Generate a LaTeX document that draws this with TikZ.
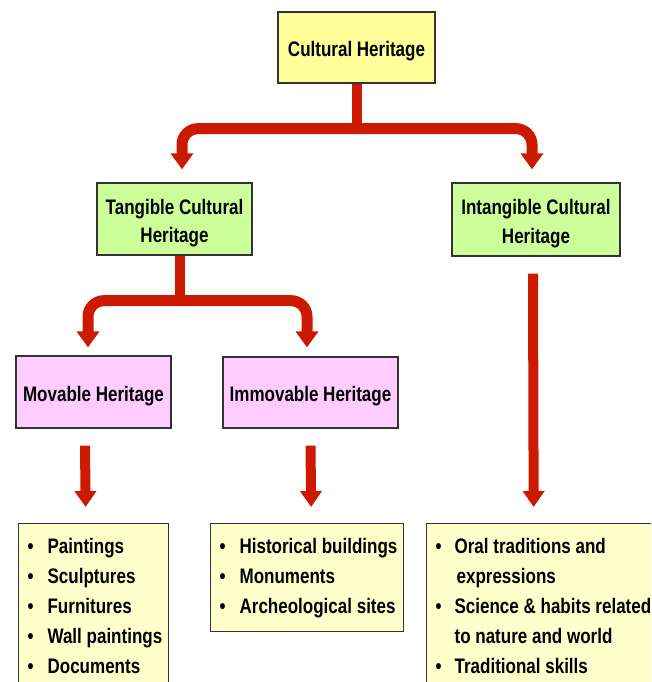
\documentclass[tikz,border=0pt]{standalone}
\usepackage{fontspec}
\setmainfont{Liberation Sans}[FakeStretch=0.81]
\usetikzlibrary{arrows.meta}
\definecolor{chY}{HTML}{FFFF99}
\definecolor{tgG}{HTML}{CCFF99}
\definecolor{mvP}{HTML}{FFCCFF}
\definecolor{lsY}{HTML}{FFFFCC}
\definecolor{arR}{HTML}{CC1A00}
\definecolor{bdr}{HTML}{333333}
\newcommand{\itemrow}[1]{\textbullet & #1}
\begin{document}
\begin{tikzpicture}[x=1pt,y=-1pt,
  txt/.style={font=\bfseries\fontsize{21}{28.5}\selectfont},
  box/.style={txt, draw=bdr, line width=1.3pt, align=center, inner sep=0pt, text height=18.5pt, text depth=0pt},
  box2/.style={box, text height=47pt},
  listbox/.style={draw=bdr, line width=1.3pt, fill=lsY, anchor=north west, inner xsep=9pt, inner ysep=9pt, font=\bfseries\fontsize{21}{30}\selectfont},
  trunk/.style={draw=arR, line width=10pt},
  conn/.style={draw=arR, line width=11pt, rounded corners=16pt, -{Triangle[width=22pt,length=16pt]}},
  straight/.style={draw=arR, line width=10pt, -{Triangle[width=21pt,length=16pt]}},
]
\useasboundingbox (0,0) rectangle (651,682);
\clip (0,0) rectangle (651,682);
\fill[white] (0,0) rectangle (651,682);

\node[box, fill=chY, minimum width=157pt, minimum height=71pt] (ch) at (356.5,47.5) {Cultural Heritage};
\node[box2, fill=tgG, minimum width=155pt, minimum height=72pt] (tch) at (174.5,219) {Tangible Cultural\\Heritage};
\node[box2, fill=tgG, minimum width=168pt, minimum height=73pt] (ih) at (536,219.5) {Intangible Cultural\\Heritage};
\node[box, fill=mvP, minimum width=155pt, minimum height=72pt] (mv) at (93.5,392) {Movable Heritage};
\node[box, fill=mvP, minimum width=175pt, minimum height=71pt] (im) at (310.5,392.5) {Immovable Heritage};

\node[listbox, text depth=180pt] (ml) at (18,523) {\makebox[132pt][l]{\begin{tabular}[t]{@{}l@{\hspace{14pt}}l@{}}
\itemrow{Paintings}\\
\itemrow{Sculptures}\\
\itemrow{Furnitures}\\
\itemrow{Wall paintings}\\
\itemrow{Documents}
\end{tabular}}};
\node[listbox] (il) at (210,523) {\makebox[175pt][l]{\begin{tabular}[t]{@{}l@{\hspace{14pt}}l@{}}
\itemrow{Historical buildings}\\
\itemrow{Monuments}\\
\itemrow{Archeological sites}
\end{tabular}}};
\node[listbox, text depth=180pt] (rl) at (426,523) {\makebox[216pt][l]{\begin{tabular}[t]{@{}l@{\hspace{13pt}}l@{}}
\itemrow{Oral traditions and}\\
 & \hspace{2pt}expressions\\
\itemrow{Science \& habits related}\\
 & to nature and world\\
\itemrow{Traditional skills}
\end{tabular}}};

% top branching
\coordinate (j1) at ([yshift=-45pt]ch.south);
\draw[trunk] (ch.south) -- ([yshift=-5.5pt]j1);
\draw[conn] (j1) -| ([xshift=7.5pt,yshift=13pt]tch.north);
\draw[conn] (j1) -| ([xshift=-4pt,yshift=13pt]ih.north);

% tangible branching
\coordinate (j2) at ([xshift=5.5pt,yshift=-45pt]tch.south);
\draw[trunk] ([xshift=5.5pt]tch.south) -- ([yshift=-5.5pt]j2);
\draw[conn] (j2) -| ([xshift=-5.5pt,yshift=8pt]mv.north);
\draw[conn] (j2) -| ([xshift=-3.5pt,yshift=9pt]im.north);

% straight arrows
\draw[straight] ([xshift=-8.5pt,yshift=-17pt]mv.south) -- ([xshift=-8pt,yshift=16pt]ml.north);
\draw[straight] ([yshift=-17pt]im.south) -- ([xshift=4pt,yshift=16pt]il.north);
\draw[straight] ([xshift=-3pt,yshift=-17pt]ih.south) -- ([xshift=-10pt,yshift=16pt]rl.north);
\end{tikzpicture}
\end{document}
